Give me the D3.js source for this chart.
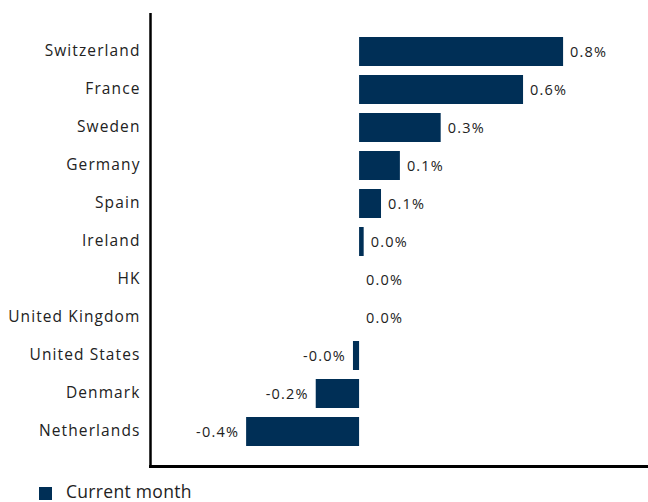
<!DOCTYPE html>
<html><head><meta charset="utf-8">
<script src="https://cdn.jsdelivr.net/npm/d3@7/dist/d3.min.js"></script>
<style>body{margin:0;background:#fff}svg{display:block}</style>
</head><body><svg id="c" width="648" height="502"></svg>
<script>
const categories = ["Switzerland","France","Sweden","Germany","Spain","Ireland","HK","United Kingdom","United States","Denmark","Netherlands"];
const values = [0.80, 0.643, 0.32, 0.16, 0.086, 0.018, 0.0, 0.0, -0.024, -0.17, -0.443];
const valueLabels = ["0.8%","0.6%","0.3%","0.1%","0.1%","0.0%","0.0%","0.0%","-0.0%","-0.2%","-0.4%"];
const seriesName = "Current month";
const color = "#002F56";
const font = "Open Sans, sans-serif";

const svg = d3.select("#c");
const x = d3.scaleLinear().domain([-0.816, 1.133]).range([151, 648]);
const y = d3.scaleBand().domain(categories).range([18, 465]).paddingInner(9/38).paddingOuter(0.5);

svg.selectAll("rect.bar").data(categories).join("rect").attr("class","bar")
  .attr("x", (d,i)=>Math.min(x(0), x(values[i])))
  .attr("width", (d,i)=>Math.abs(x(values[i])-x(0)))
  .attr("y", d=>y(d)).attr("height", y.bandwidth()).attr("fill", color);

svg.selectAll("text.vl").data(categories).join("text").attr("class","vl")
  .attr("x", (d,i)=> values[i] < 0 ? x(values[i]) - 7 : x(values[i]) + 7)
  .attr("y", d=>y(d)+y.bandwidth()/2)
  .attr("dy","0.36em")
  .attr("text-anchor", (d,i)=> values[i] < 0 ? "end" : "start")
  .attr("font-family", font).attr("font-size", 14.5).attr("letter-spacing", 1.2).attr("fill","#222")
  .text((d,i)=>valueLabels[i]);

const yAxis = d3.axisLeft(y).tickSize(0).tickPadding(10);
const ga = svg.append("g").attr("transform","translate(150.5,0)").call(yAxis);
ga.select(".domain").remove();
ga.selectAll("text").attr("font-family", font).attr("font-size", 15.5).attr("letter-spacing", 1.1).attr("fill","#222");

svg.append("line").attr("x1",150.5).attr("x2",150.5).attr("y1",13).attr("y2",468).attr("stroke","#000").attr("stroke-width",2.5);
svg.append("line").attr("x1",149).attr("x2",648).attr("y1",466.5).attr("y2",466.5).attr("stroke","#000").attr("stroke-width",3);

const lg = svg.append("g");
lg.append("rect").attr("x",39).attr("y",487).attr("width",13).attr("height",13).attr("fill",color);
lg.append("text").attr("x",66).attr("y",497.5).attr("font-family",font).attr("font-size",17.5).attr("letter-spacing",0.3).attr("fill","#222").text(seriesName);
</script></body></html>
